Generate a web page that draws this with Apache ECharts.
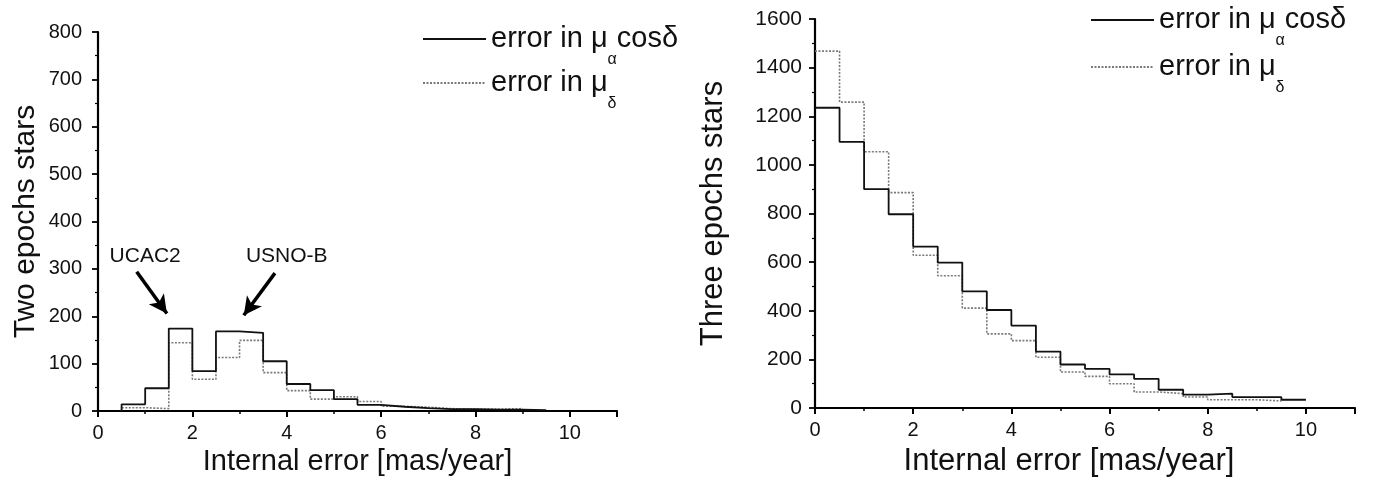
<!DOCTYPE html>
<html><head><meta charset="utf-8">
<script src="https://cdn.jsdelivr.net/npm/echarts@6/dist/echarts.min.js"></script>
<style>html,body{margin:0;padding:0;background:#fff}#c{width:1383px;height:482px}</style>
</head><body><div id="c"></div>
<script>
// ---- data (bin edges and counts) ----
const NAME_RA = 'error in μαcosδ';
const NAME_DEC = 'error in μδ';

// left panel: two epochs stars
const leftEdgesRA = [0.5,1.0,1.5,2.0,2.5,3.0,3.5,4.0,4.5,5.0,5.5,6.0,6.5,7.0,7.5,8.0,8.5,9.0,9.5];
const leftCountsRA = [14,48,174,84,168,165,105,57,44,25,13,9,6,4,4,3,3,2];
const leftEdgesDEC = [0.5,1.0,1.5,2.0,2.5,3.0,3.5,4.0,4.5,5.0,5.5,6.0,6.5,7.0,7.5,8.0,8.5,9.0];
const leftCountsDEC = [7,5,144,67,113,149,81,43,25,30,20,10,8,5,4,4,5];

// right panel: three epochs stars
const rightEdgesRA = [0,0.5,1.0,1.5,2.0,2.5,3.0,3.5,4.0,4.5,5.0,5.5,6.0,6.5,7.0,7.5,8.0,8.5,9.0,9.5,10.0];
const rightCountsRA = [1235,1095,900,797,664,598,480,403,339,232,179,161,138,120,75,55,59,45,45,34];
const rightEdgesDEC = [0,0.5,1.0,1.5,2.0,2.5,3.0,3.5,4.0,4.5,5.0,5.5,6.0,6.5,7.0,7.5,8.0,8.5,9.0,9.5];
const rightCountsDEC = [1468,1258,1054,886,628,544,411,305,277,209,148,130,100,66,59,45,34,34,29];

const xTicksMajor = [0,2,4,6,8,10];
const annotations = ['UCAC2','USNO-B'];

// ---- helpers ----
function stepPoints(edges, vals, fromZero) {
  const pts = [];
  if (fromZero) pts.push([edges[0], 0]);
  vals.forEach((v, i) => pts.push([edges[i], v]));
  pts.push([edges[vals.length], vals[vals.length - 1]]);
  return pts;
}
const FF = '"Liberation Sans", Arial, Helvetica, sans-serif';
const BLK = '#111';
const solidStyle = {color: BLK, width: 1.8, type: 'solid'};
const dotStyle = {color: '#7a7a7a', width: 1.6, type: [2, 1.5]};

function legendFmt(n) {
  return n === NAME_RA ? '{t|error in μ}{s|α}{t|cosδ}' : '{t|error in μ}{s|δ}';
}
const legendText = {
  color: BLK, fontFamily: FF,
  rich: {
    t: {fontSize: 29, lineHeight: 32, fontFamily: FF, color: BLK},
    s: {fontSize: 16, lineHeight: 16, padding: [42, 0, 0, 0], fontFamily: FF, color: BLK}
  }
};
function mkLegend(name, left, centerY) {
  return {
    data: [name], orient: 'vertical', left: left, top: centerY - 29,
    itemWidth: 63, itemHeight: 14, padding: 0, formatter: legendFmt,
    itemStyle: {opacity: 0, borderWidth: 0},
    textStyle: legendText, selectedMode: false
  };
}

function mkXAxes(grid, nameSize, nameGap, namePad) {
  return [{
    gridIndex: grid, type: 'value', min: 0, max: 11, interval: 1, position: 'bottom',
    axisLine: {show: true, onZero: false, lineStyle: {color: '#000', width: 2.2}},
    axisTick: {show: true, length: 3, lineStyle: {color: '#000', width: 1.5}},
    axisLabel: {fontSize: 20, color: BLK, fontFamily: FF, margin: 12,
      formatter: v => xTicksMajor.indexOf(v) >= 0 ? String(v) : ''},
    splitLine: {show: false},
    name: 'Internal error [mas/year]', nameLocation: 'middle', nameGap: nameGap,
    nameTextStyle: {fontSize: nameSize, color: BLK, fontFamily: FF, padding: namePad}
  }, {
    gridIndex: grid, type: 'value', min: 0, max: 11, interval: 2, position: 'bottom',
    axisLine: {show: false, onZero: false},
    axisTick: {show: true, length: 6, lineStyle: {color: '#000', width: 2}},
    axisLabel: {show: false}, splitLine: {show: false}
  }];
}
function mkYAxis(grid, max, interval, labelSize, margin, name, nameSize, nameGap) {
  return {
    gridIndex: grid, type: 'value', min: 0, max: max, interval: interval,
    axisLine: {show: true, lineStyle: {color: '#000', width: 2.2}},
    axisTick: {show: true, length: 6, lineStyle: {color: '#000', width: 1.8}},
    minorTick: {show: true, splitNumber: 2, length: 3, lineStyle: {color: '#000', width: 1.2}},
    axisLabel: {fontSize: labelSize, color: BLK, fontFamily: FF, margin: margin,
      formatter: v => String(v)},
    splitLine: {show: false},
    name: name, nameLocation: 'middle', nameGap: nameGap,
    nameTextStyle: {fontSize: nameSize, color: BLK, fontFamily: FF}
  };
}
function mkSeries(name, xi, yi, pts, style, extra) {
  return Object.assign({
    name: name, type: 'line', step: 'end', xAxisIndex: xi, yAxisIndex: yi,
    data: pts, symbol: 'none', showSymbol: false, lineStyle: style,
    itemStyle: {color: style.color},
    silent: true, animation: false
  }, extra || {});
}

const arrowStyle = {color: '#000', width: 3.5, type: 'solid'};
const leftAnno = {
  markLine: {
    silent: true, symbol: ['none', 'arrow'], symbolSize: [14, 18],
    lineStyle: arrowStyle, label: {show: false}, animation: false,
    data: [
      [{coord: [0.82, 294]}, {coord: [1.46, 206]}],
      [{coord: [3.75, 291]}, {coord: [3.09, 202]}]
    ]
  },
  markPoint: {
    silent: true, symbol: 'circle', symbolSize: 0, animation: false,
    label: {show: true, position: 'inside', fontSize: 21, color: BLK, fontFamily: FF,
      formatter: p => p.name},
    data: [
      {name: annotations[0], coord: [1.0, 327]},
      {name: annotations[1], coord: [4.0, 327]}
    ]
  }
};

const chart = echarts.init(document.getElementById('c'), null, {renderer: 'canvas'});
chart.setOption({
  backgroundColor: '#fff',
  animation: false,
  textStyle: {fontFamily: FF},
  grid: [
    {left: 98, top: 32, width: 519, height: 379, containLabel: false},
    {left: 815, top: 19, width: 540, height: 392, containLabel: false}
  ],
  legend: [
    mkLegend(NAME_RA, 422, 39),
    mkLegend(NAME_DEC, 422, 83),
    mkLegend(NAME_RA, 1090, 20),
    mkLegend(NAME_DEC, 1090, 67)
  ],
  xAxis: [].concat(mkXAxes(0, 29, 35, [0, 0, 0, 0]), mkXAxes(1, 31, 38, [0, 32, 0, 0])),
  yAxis: [
    mkYAxis(0, 800, 100, 20, 16, 'Two epochs stars', 30, 57),
    mkYAxis(1, 1600, 200, 21, 13, 'Three epochs stars', 31, 86)
  ],
  series: [
    mkSeries(NAME_DEC, 0, 0, stepPoints(leftEdgesDEC, leftCountsDEC, true), dotStyle),
    mkSeries(NAME_RA, 0, 0, stepPoints(leftEdgesRA, leftCountsRA, true), solidStyle, leftAnno),
    mkSeries(NAME_DEC, 2, 1, stepPoints(rightEdgesDEC, rightCountsDEC, false), dotStyle),
    mkSeries(NAME_RA, 2, 1, stepPoints(rightEdgesRA, rightCountsRA, false), solidStyle)
  ]
});
</script>
</body></html>
